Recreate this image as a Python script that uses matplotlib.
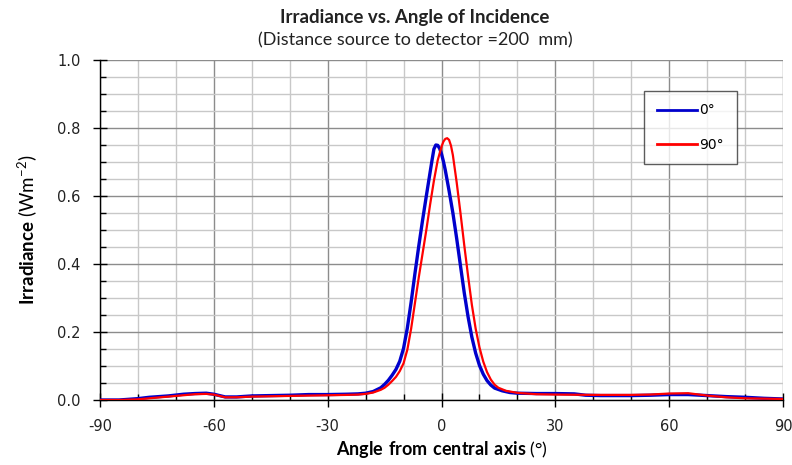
import matplotlib
matplotlib.use("Agg")
import matplotlib.pyplot as plt
from matplotlib.ticker import MultipleLocator

# measured irradiance, detector at 0 deg
angle_0 = [-90, -85, -80, -77, -72, -68, -65, -62, -60, -57, -54, -50, -45, -40, -35, -30,
           -25, -22, -20, -18, -16, -15, -14, -13, -12, -11, -10, -9, -8, -7, -6, -5, -4,
           -3, -2.5, -2, -1.5, -1, -0.5, 0, 0.5, 1, 2, 3, 4, 5, 6, 7, 8, 9, 10, 11, 12,
           13, 14, 16, 18, 20, 25, 30, 35, 38, 42, 50, 55, 60, 65, 70, 75, 80, 85, 90]
irr_0 = [0.0, 0.0, 0.004, 0.008, 0.012, 0.017, 0.019, 0.02, 0.017, 0.009, 0.009, 0.012,
         0.013, 0.014, 0.016, 0.016, 0.017, 0.018, 0.02, 0.025, 0.036, 0.046, 0.058, 0.073,
         0.09, 0.114, 0.152, 0.212, 0.288, 0.372, 0.452, 0.528, 0.6, 0.67, 0.705, 0.738,
         0.75, 0.749, 0.74, 0.724, 0.702, 0.676, 0.615, 0.55, 0.475, 0.395, 0.315, 0.245,
         0.185, 0.138, 0.102, 0.076, 0.057, 0.044, 0.035, 0.027, 0.022, 0.02, 0.019, 0.019,
         0.018, 0.014, 0.013, 0.013, 0.014, 0.016, 0.016, 0.013, 0.01, 0.008, 0.005, 0.003]

# detector rotated 90 deg
angle_90 = [-90, -85, -80, -77, -72, -68, -65, -62, -60, -57, -54, -50, -45, -40, -35, -30,
            -25, -22, -20, -18, -16, -15, -14, -13, -12, -11, -10, -9, -8, -7, -6, -5, -4,
            -3, -2, -1, 0, 0.5, 1, 1.5, 2, 2.5, 3, 4, 5, 6, 7, 8, 9, 10, 11, 12, 13, 14,
            15, 17, 20, 25, 30, 40, 50, 55, 60, 65, 70, 75, 80, 85, 90]
irr_90 = [0.0, 0.0, 0.002, 0.005, 0.01, 0.014, 0.017, 0.018, 0.016, 0.008, 0.008, 0.01,
          0.011, 0.012, 0.013, 0.014, 0.015, 0.016, 0.018, 0.022, 0.03, 0.036, 0.045, 0.056,
          0.068, 0.085, 0.108, 0.148, 0.21, 0.285, 0.36, 0.43, 0.5, 0.575, 0.645, 0.705,
          0.745, 0.76, 0.768, 0.77, 0.765, 0.748, 0.72, 0.64, 0.55, 0.455, 0.365, 0.28,
          0.21, 0.155, 0.113, 0.082, 0.06, 0.045, 0.036, 0.027, 0.021, 0.017, 0.016, 0.015,
          0.015, 0.016, 0.019, 0.02, 0.013, 0.008, 0.005, 0.004, 0.003]

plt.rcParams["font.family"] = ["DejaVu Sans"]
plt.rcParams["axes.unicode_minus"] = False
plt.rcParams["mathtext.fontset"] = "custom"
plt.rcParams["mathtext.rm"] = "Lato"
plt.rcParams["mathtext.bf"] = "Lato:bold"

fig = plt.figure(figsize=(7.92, 4.65), dpi=100)
ax = fig.add_axes([100 / 792, 1 - 400 / 465, 683 / 792, 340 / 465])

ax.plot(angle_0, irr_0, color="#0000CC", lw=2.4, label="0°", zorder=3,
        solid_joinstyle="round")
ax.plot(angle_90, irr_90, color="#FF0000", lw=1.6, label="90°", zorder=4,
        solid_joinstyle="round")

ax.set_xlim(-90, 90)
ax.set_ylim(0, 1.0)
ax.xaxis.set_major_locator(MultipleLocator(30))
ax.xaxis.set_minor_locator(MultipleLocator(10))
ax.yaxis.set_major_locator(MultipleLocator(0.2))
ax.yaxis.set_minor_locator(MultipleLocator(0.05))
ax.yaxis.set_major_formatter(plt.FormatStrFormatter("%.1f"))

ax.grid(True, which="major", color="#8c8c8c", lw=1.0)
ax.grid(True, which="minor", color="#c8c8c8", lw=1.0)
ax.set_axisbelow(True)

for s in ["top", "right"]:
    ax.spines[s].set_visible(False)
for s in ["left", "bottom"]:
    ax.spines[s].set_color("black")
    ax.spines[s].set_linewidth(1.0)

ax.tick_params(which="major", direction="inout", length=10, width=1, labelsize=10.5,
               colors="black", labelcolor="#222222")
ax.tick_params(which="minor", direction="in", length=4, width=1)
ax.tick_params(axis="x", pad=9)
ax.tick_params(axis="y", pad=9)

ax.set_xlabel(r"$\mathbf{Angle\ from\ central\ axis}$ (°)", fontsize=13,
              family="Lato", labelpad=3)
ax.set_ylabel(r"$\mathbf{Irradiance}$ (Wm$^{-2}$)", fontsize=13.5, family="Lato",
              labelpad=12)

fig.text(415 / 792, 1 - 17 / 465, "Irradiance vs. Angle of Incidence", ha="center",
         va="center", fontsize=13.5, fontweight="bold", family="Lato", color="#222222")
fig.text(415 / 792, 1 - 40 / 465, "(Distance source to detector =200  mm)", ha="center",
         va="center", fontsize=13, family="Lato", color="#222222")

leg = ax.legend(loc="upper left", bbox_to_anchor=(0.7965, 0.909), borderaxespad=0,
                frameon=True, fancybox=False, edgecolor="#333333",
                handlelength=2.9, handletextpad=0.2, labelspacing=1.45,
                borderpad=0.9, prop={"family": "DejaVu Sans", "size": 10})
leg.get_frame().set_linewidth(1.0)
for h in leg.get_lines():
    h.set_linewidth(2.0)

fig.savefig("out.png", dpi=100)
